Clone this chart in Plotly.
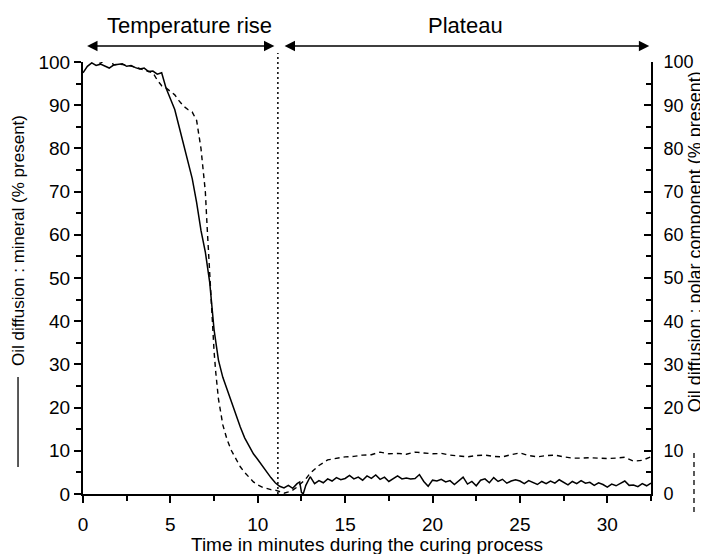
import plotly.graph_objects as go

# ---- data ----
mineral_x = [0, 0.25, 0.5, 0.75, 1.0, 1.25, 1.5, 1.75, 2.0, 2.25, 2.5, 2.75, 3.0, 3.25, 3.5, 3.75,
             4.0, 4.25, 4.5, 4.75, 5.0, 5.25, 5.5, 5.75, 6.0, 6.25, 6.5, 6.75, 7.0, 7.25, 7.5, 7.75,
             8.0, 8.25, 8.5, 8.75, 9.0, 9.25, 9.5, 9.75, 10.0, 10.25, 10.5, 10.75, 11.0, 11.25, 11.5,
             11.75, 12.0, 12.25, 12.4, 12.5, 12.6, 12.75,
             13.0, 13.25, 13.5, 13.75, 14.0, 14.25, 14.5, 14.75, 15.0, 15.25, 15.5, 15.75, 16.0, 16.25,
             16.5, 16.75, 17.0, 17.25, 17.5, 17.75, 18.0, 18.25, 18.5, 18.75, 19.0, 19.25, 19.5, 19.75,
             20.0, 20.25, 20.5, 20.75, 21.0, 21.25, 21.5, 21.75, 22.0, 22.25, 22.5, 22.75, 23.0, 23.25,
             23.5, 23.75, 24.0, 24.25, 24.5, 24.75, 25.0, 25.25, 25.5, 25.75, 26.0, 26.25, 26.5, 26.75,
             27.0, 27.25, 27.5, 27.75, 28.0, 28.25, 28.5, 28.75, 29.0, 29.25, 29.5, 29.75, 30.0, 30.25,
             30.5, 30.75, 31.0, 31.25, 31.5, 31.75, 32.0, 32.25, 32.5]
mineral_y = [97.5, 99.0, 99.8, 99.2, 99.5, 99.0, 98.6, 99.3, 99.4, 99.6, 99.0, 99.2, 98.7, 98.4, 98.6, 97.8,
             97.9, 97.2, 97.5, 94.0, 91.5, 89.0, 85.0, 81.0, 77.0, 73.0, 67.5, 61.0, 56.0, 49.0, 38.0, 31.0,
             27.0, 24.0, 21.0, 18.5, 15.5, 13.0, 11.0, 9.3, 8.0, 6.5, 5.0, 3.8, 2.6, 1.8, 1.4,
             2.0, 1.3, 2.4, 2.8, 0.4, 0.0, 2.0,
             4.0, 2.4, 3.1, 2.6, 3.5, 3.0, 3.8, 3.3, 3.6, 4.3, 3.5, 3.9, 3.2, 4.2,
             3.6, 4.4, 3.4, 3.9, 2.9, 3.6, 4.2, 3.5, 3.7, 3.5, 3.6, 4.5, 2.9, 1.8,
             3.2, 3.0, 3.4, 2.8, 3.1, 2.2, 3.0, 3.9, 2.3, 2.9, 1.9, 3.2, 3.5, 2.6,
             3.8, 2.9, 3.4, 2.5, 3.0, 3.3, 3.0, 2.4, 3.1, 2.7, 2.2, 2.9, 2.4, 3.0,
             2.5, 3.3, 2.6, 2.1, 2.9, 2.4, 3.1, 2.5, 2.7, 2.0, 2.6, 2.2, 1.6, 2.3,
             1.9, 2.4, 3.0, 2.0, 2.1, 1.7, 2.4, 1.9, 2.5]

polar_x = [0.1, 0.25, 0.5, 0.75, 1.0, 1.25, 1.5, 1.75, 2.0, 2.5, 3.0, 3.5, 4.0, 4.25, 4.5, 4.75, 5.0,
           5.25, 5.5, 5.75, 6.0, 6.25, 6.5, 6.6, 6.75, 6.9, 7.0, 7.1, 7.2, 7.3, 7.4, 7.5, 7.6, 7.75,
           8.0, 8.25, 8.5, 8.75, 9.0, 9.25, 9.5, 9.75, 10.0, 10.25, 10.5, 10.75, 11.0, 11.25, 11.5,
           11.75, 12.0, 12.25, 12.5, 12.75, 13.0, 13.25, 13.5, 14.0, 14.5, 15.0, 15.5, 16.0, 16.5,
           17.0, 17.5, 18.0, 18.5, 19.0, 19.5, 20.0, 20.5, 21.0, 21.5, 22.0, 22.5, 23.0, 23.5, 24.0,
           24.5, 25.0, 25.5, 26.0, 26.5, 27.0, 27.5, 28.0, 28.5, 29.0, 29.5, 30.0, 30.5, 31.0, 31.5,
           32.0, 32.5]
polar_y = [100.5, 101.0, 101.2, 100.0, 99.7, 100.5, 101.0, 99.3, 99.5, 99.3, 98.8, 98.2, 97.5, 95.8,
           94.5, 94.0, 93.2, 92.4, 91.0, 89.8, 89.0, 88.4, 86.5, 84.0, 80.0, 74.0, 70.0, 62.0, 54.5,
           46.0, 39.0, 33.0, 28.0, 22.0, 16.0, 12.5, 10.0, 8.0, 6.3, 5.0, 3.8, 2.8, 2.1, 1.6, 1.3,
           1.0, 0.9, 0.5, 0.2, 0.5, 0.9, 1.6, 2.5, 3.5, 4.8, 5.8, 6.6, 7.9, 8.3, 8.6, 8.7, 9.0, 9.1,
           9.7, 9.3, 9.4, 9.2, 9.7, 9.5, 9.3, 9.4, 9.0, 8.8, 8.6, 8.9, 9.0, 8.7, 8.6, 9.1, 9.5, 8.9,
           8.6, 8.9, 9.0, 8.6, 8.3, 8.3, 8.4, 8.3, 8.2, 8.3, 8.5, 7.6, 7.8, 8.6]

x_ticks = [0, 5, 10, 15, 20, 25, 30]
y_ticks = [0, 10, 20, 30, 40, 50, 60, 70, 80, 90, 100]
phase_boundary = 11.15
phase_labels = ["Temperature rise", "Plateau"]
phase_label_x = [6.1, 21.9]
x_title = "Time in minutes during the curing process"
left_title = "Oil diffusion : mineral (% present)"
right_title = "Oil diffusion : polar component (% present)"

FONT = "Liberation Sans, Arial, sans-serif"

fig = go.Figure()
fig.add_trace(go.Scatter(x=mineral_x, y=mineral_y, mode="lines",
                         line=dict(color="black", width=1.5), yaxis="y", showlegend=False))
fig.add_trace(go.Scatter(x=polar_x, y=polar_y, mode="lines",
                         line=dict(color="black", width=1.4, dash="5px,4px"), yaxis="y2", showlegend=False))

axis_common = dict(showgrid=False, zeroline=False, showline=True, linecolor="black", linewidth=2,
                   tickcolor="black", tickwidth=2)

# page body has an 8px margin, so the figure is 8px smaller than the window
fig.update_layout(
    width=700, height=546,
    margin=dict(l=75, r=57, t=54, b=60),
    paper_bgcolor="white", plot_bgcolor="white",
    font=dict(family=FONT, color="black"),
    xaxis=dict(range=[0, 32.5], tickvals=x_ticks, ticks="outside", ticklen=7, ticklabelstandoff=5,
               tickfont=dict(family=FONT, size=19, color="black"),
               minor=dict(dtick=2.5, ticks="outside", ticklen=5, tickcolor="black", tickwidth=1.5),
               **axis_common),
    yaxis=dict(range=[0, 100], tickvals=y_ticks, ticks="outside", ticklen=7,
               tickfont=dict(family=FONT, size=19, color="black"),
               minor=dict(dtick=5, ticks="outside", ticklen=5, tickcolor="black", tickwidth=1.5),
               **axis_common),
    yaxis2=dict(range=[0, 100], tickvals=y_ticks, overlaying="y", side="right", ticks="inside", ticklen=7,
                ticklabelstandoff=7, tickfont=dict(family=FONT, size=18, color="black"),
                minor=dict(dtick=5, ticks="inside", ticklen=5, tickcolor="black", tickwidth=1.5),
                **axis_common),
)

# dotted phase boundary
fig.add_shape(type="line", xref="x", yref="paper", x0=phase_boundary, x1=phase_boundary, y0=0, y1=1.021,
              line=dict(color="black", width=1.5, dash="2px,3px"))

# double-headed arrows
arrow_y = 1.037
for x0, x1 in [(0.15, phase_boundary - 0.2), (phase_boundary + 0.3, 32.4)]:
    fig.add_annotation(x=x1, y=arrow_y, xref="x", yref="paper", ax=x0, ay=0, axref="x", ayref="pixel",
                       text="", showarrow=True, arrowhead=2, startarrowhead=2, arrowside="end+start",
                       arrowsize=1.3, startarrowsize=1.3, arrowwidth=1.6, arrowcolor="black")

for lbl, lx in zip(phase_labels, phase_label_x):
    fig.add_annotation(x=lx, y=1.084, xref="x", yref="paper", text=lbl, showarrow=False,
                       font=dict(family=FONT, size=22, color="black"), xanchor="center", yanchor="middle")

fig.add_annotation(x=0.5, y=-0.116, xref="paper", yref="paper", text=x_title, showarrow=False,
                   font=dict(family=FONT, size=19, color="black"), xanchor="center", yanchor="middle")

# axis titles with line-style keys
fig.add_annotation(x=-0.1144, y=0.5856, xref="paper", yref="paper", text=left_title, textangle=-90,
                   showarrow=False, xanchor="center", yanchor="middle",
                   font=dict(family=FONT, size=17, color="black"))
fig.add_shape(type="line", xref="paper", yref="paper", x0=-0.1144, x1=-0.1144, y0=0.0625, y1=0.271,
              line=dict(color="black", width=1.3))
fig.add_annotation(x=1.0775, y=0.583, xref="paper", yref="paper", text=right_title, textangle=-90,
                   showarrow=False, xanchor="center", yanchor="middle",
                   font=dict(family=FONT, size=18, color="black"))
fig.add_shape(type="line", xref="paper", yref="paper", x0=1.0757, x1=1.0757, y0=-0.0417, y1=0.102,
              line=dict(color="black", width=1.3, dash="5px,4px"))

fig.write_html("out.html")
